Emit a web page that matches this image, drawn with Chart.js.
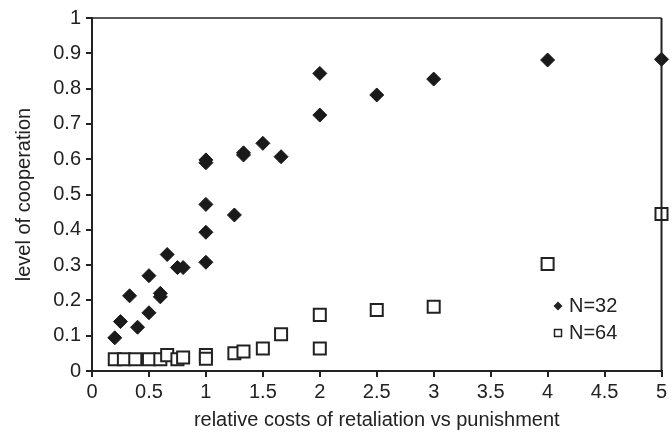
<!DOCTYPE html>
<html>
<head>
<meta charset="utf-8">
<script src="https://cdn.jsdelivr.net/npm/chart.js@4/dist/chart.umd.min.js"></script>
<style>
  html, body { margin: 0; padding: 0; background: #fff; }
  #wrap { width: 672px; height: 432px; }
</style>
</head>
<body>
<div id="wrap"><canvas id="coopChart"></canvas></div>
<script>
// N=32 (filled diamonds)
var x32 = [0.2, 0.25, 0.33, 0.4, 0.5, 0.5, 0.6, 0.6, 0.66, 0.75, 0.8, 1, 1, 1, 1, 1, 1.25, 1.33, 1.33, 1.5, 1.66, 2, 2, 2.5, 3, 4, 5];
var y32 = [0.094, 0.14, 0.213, 0.124, 0.27, 0.165, 0.21, 0.22, 0.33, 0.293, 0.293, 0.308, 0.393, 0.472, 0.59, 0.598, 0.442, 0.612, 0.618, 0.645, 0.607, 0.725, 0.843, 0.782, 0.827, 0.881, 0.883];
// N=64 (open squares)
var x64 = [0.2, 0.28, 0.38, 0.5, 0.6, 0.66, 0.75, 0.8, 1, 1, 1.25, 1.33, 1.5, 1.66, 2, 2, 2.5, 3, 4, 5];
var y64 = [0.033, 0.033, 0.033, 0.033, 0.033, 0.045, 0.033, 0.038, 0.045, 0.035, 0.05, 0.055, 0.064, 0.104, 0.159, 0.064, 0.173, 0.182, 0.303, 0.445];

var xTicks = [0, 0.5, 1, 1.5, 2, 2.5, 3, 3.5, 4, 4.5, 5];
var yTicks = [0, 0.1, 0.2, 0.3, 0.4, 0.5, 0.6, 0.7, 0.8, 0.9, 1];
var seriesNames = ['N=32', 'N=64'];

function toPoints(xs, ys) {
    return xs.map(function(x, i) { return { x: x, y: ys[i] }; });
}

var ink = '#222';
var font = { family: 'Liberation Sans, Arial, sans-serif', size: 20 };

// frame on top and right + small legend inside the plot
var framePlugin = {
    id: 'frame',
    afterDraw: function(chart) {
        var ctx = chart.ctx, a = chart.chartArea;
        ctx.save();
        ctx.strokeStyle = ink;
        ctx.lineWidth = 1.5;
        ctx.beginPath();
        ctx.moveTo(a.left, a.top);
        ctx.lineTo(a.right, a.top);
        ctx.stroke();
        ctx.lineWidth = 2;
        ctx.beginPath();
        ctx.moveTo(a.right, a.top);
        ctx.lineTo(a.right, a.bottom);
        ctx.stroke();

        // legend
        var lx = 558, ly = [306, 333];
        ctx.fillStyle = ink;
        ctx.beginPath();
        ctx.moveTo(lx, ly[0] - 4.5);
        ctx.lineTo(lx + 4.5, ly[0]);
        ctx.lineTo(lx, ly[0] + 4.5);
        ctx.lineTo(lx - 4.5, ly[0]);
        ctx.closePath();
        ctx.fill();
        ctx.lineWidth = 1.5;
        ctx.strokeRect(lx - 3.5, ly[1] - 3.5, 7, 7);
        ctx.font = font.size + 'px ' + font.family;
        ctx.textBaseline = 'middle';
        ctx.textAlign = 'left';
        ctx.fillText(seriesNames[0], lx + 11, ly[0]);
        ctx.fillText(seriesNames[1], lx + 11, ly[1]);
        ctx.restore();
    }
};

function plain(v) { return String(v); }

var ctx = document.getElementById('coopChart').getContext('2d');
var chart = new Chart(ctx, {
    type: 'scatter',
    data: {
        datasets: [{
            label: seriesNames[1],
            data: toPoints(x64, y64),
            pointStyle: 'rect',
            pointRadius: 8.5,
            pointHoverRadius: 8.5,
            backgroundColor: '#fff',
            borderColor: ink,
            borderWidth: 2
        }, {
            label: seriesNames[0],
            data: toPoints(x32, y32),
            pointStyle: 'rectRot',
            pointRadius: 7,
            pointHoverRadius: 7,
            backgroundColor: '#1a1a1a',
            borderColor: '#1a1a1a',
            borderWidth: 1
        }]
    },
    plugins: [framePlugin],
    options: {
        responsive: true,
        maintainAspectRatio: false,
        animation: false,
        clip: false,
        layout: { padding: { top: 18, right: 8, left: 0, bottom: 0 } },
        plugins: {
            legend: { display: false },
            tooltip: { enabled: false }
        },
        scales: {
            x: {
                type: 'linear',
                min: 0,
                max: 5,
                afterBuildTicks: function(s) { s.ticks = xTicks.map(function(v) { return { value: v }; }); },
                afterFit: function(s) { s.height = 61; },
                ticks: { color: ink, font: font, padding: 3, maxRotation: 0, autoSkip: false, callback: plain },
                grid: { drawOnChartArea: false, drawTicks: true, tickLength: 6, color: ink, lineWidth: 2 },
                border: { color: ink, width: 2 },
                title: {
                    display: true,
                    text: 'relative costs of retaliation vs punishment',
                    color: ink,
                    font: font,
                    padding: { top: 0, bottom: 0 }
                }
            },
            y: {
                type: 'linear',
                min: 0,
                max: 1,
                afterBuildTicks: function(s) { s.ticks = yTicks.map(function(v) { return { value: v }; }); },
                afterFit: function(s) { s.width = 92; },
                ticks: { color: ink, font: font, padding: 5, callback: plain },
                grid: { drawOnChartArea: false, drawTicks: true, tickLength: 6, color: ink, lineWidth: 2 },
                border: { color: ink, width: 2 },
                title: {
                    display: true,
                    text: 'level of cooperation',
                    color: ink,
                    font: font,
                    padding: { top: 12, bottom: 4 }
                }
            }
        }
    }
});
</script>
</body>
</html>
